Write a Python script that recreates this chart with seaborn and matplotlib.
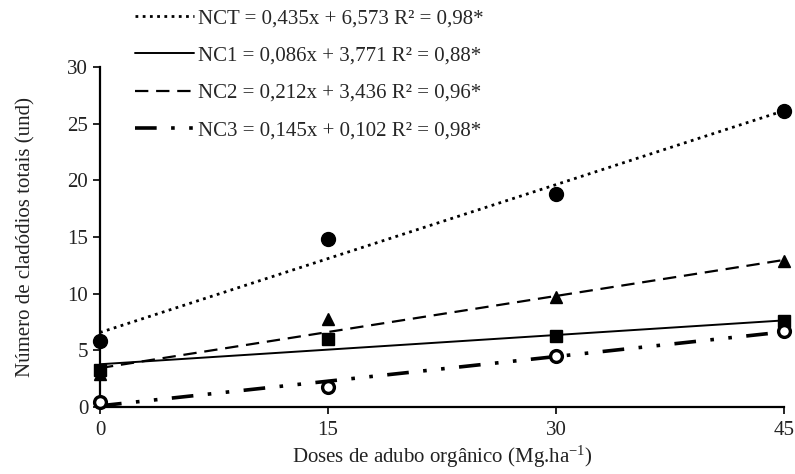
import numpy as np
import pandas as pd
import matplotlib
matplotlib.use("Agg")
import matplotlib.pyplot as plt
import seaborn as sns
from matplotlib.lines import Line2D

# Doses of organic fertilizer (Mg/ha) and mean cladode counts per variable
doses = [0, 15, 30, 45]
nct = [5.8, 14.8, 18.8, 26.1]
nc1 = [3.3, 6.0, 6.3, 7.6]
nc2 = [2.9, 7.8, 9.7, 12.9]
nc3 = [0.4, 1.8, 4.5, 6.7]

# Fitted linear regressions
names = ["NCT", "NC1", "NC2", "NC3"]
slopes = [0.435, 0.086, 0.212, 0.145]
intercepts = [6.573, 3.771, 3.436, 0.102]
r2 = [0.98, 0.88, 0.96, 0.98]

x_ticks = [0, 15, 30, 45]
y_ticks = [0, 5, 10, 15, 20, 25, 30]

sns.set_theme(style="ticks")
plt.rcParams["font.family"] = ["Liberation Serif", "DejaVu Serif"]
plt.rcParams["mathtext.fontset"] = "custom"
plt.rcParams["mathtext.rm"] = "Liberation Serif"
plt.rcParams["mathtext.it"] = "Liberation Serif:italic"

FS = 15

fig = plt.figure(figsize=(7.95, 4.74), dpi=100)
ax = fig.add_axes([0.1258, 0.1414, 0.8604, 0.7172])

obs = pd.DataFrame({
    "dose": doses * 4,
    "valor": nct + nc1 + nc2 + nc3,
    "var": sum([[n] * len(doses) for n in names], []),
})

styles = {
    "NCT": dict(ls=(0, (1, 1.6)), lw=2.0, marker="o", ms=10, mfc="black"),
    "NC1": dict(ls="-", lw=1.4, marker="s", ms=8.5, mfc="black"),
    "NC2": dict(ls=(0, (6, 3.5)), lw=1.6, marker="^", ms=9, mfc="black"),
    "NC3": dict(ls=(0, (6, 4, 1, 4, 1, 4)), lw=2.6, marker="o", ms=8.5, mfc="white"),
}

xfit = np.array([doses[0], doses[-1]], dtype=float)
handles = []
for name, a, b, r in zip(names, slopes, intercepts, r2):
    st = styles[name]
    fit = pd.DataFrame({"dose": xfit, "valor": a * xfit + b})
    sns.lineplot(data=fit, x="dose", y="valor", ax=ax, color="black",
                 linestyle=st["ls"], linewidth=st["lw"], zorder=2)
    sub = obs[obs["var"] == name]
    ax.plot(sub["dose"], sub["valor"], linestyle="none", marker=st["marker"],
            markersize=st["ms"], markerfacecolor=st["mfc"], markeredgecolor="black",
            markeredgewidth=2.4 if name == "NC3" else 1.0, clip_on=False, zorder=3)
    label = f"{name} = {a:.3f}x + {b:.3f} R² = {r:.2f}*".replace(".", ",")
    handles.append(Line2D([0], [0], color="black", linestyle=st["ls"],
                          linewidth=st["lw"], label=label))

ax.set_xlim(0, 45)
ax.set_ylim(0, 30)
ax.set_xticks(x_ticks)
ax.set_yticks(y_ticks)
ax.tick_params(axis="both", labelsize=FS, direction="out", length=5, width=1.2,
               color="black", labelcolor="#222222")
ax.tick_params(axis="x", pad=5)
for side in ["top", "right"]:
    ax.spines[side].set_visible(False)
for side in ["left", "bottom"]:
    ax.spines[side].set_linewidth(1.6)
    ax.spines[side].set_color("black")

ax.set_xlabel("Doses de adubo orgânico (Mg.ha$^{-1}$)", fontsize=FS, color="#222222", labelpad=3)
ax.set_ylabel("Número de cladódios totais (und)", fontsize=FS, color="#222222", labelpad=23)

fig.legend(handles=handles, loc="upper left", bbox_to_anchor=(0.146, 1.021),
           frameon=False, fontsize=FS, handlelength=2.85, handletextpad=0.2,
           labelspacing=0.85)

fig.savefig("out.png", dpi=100)
